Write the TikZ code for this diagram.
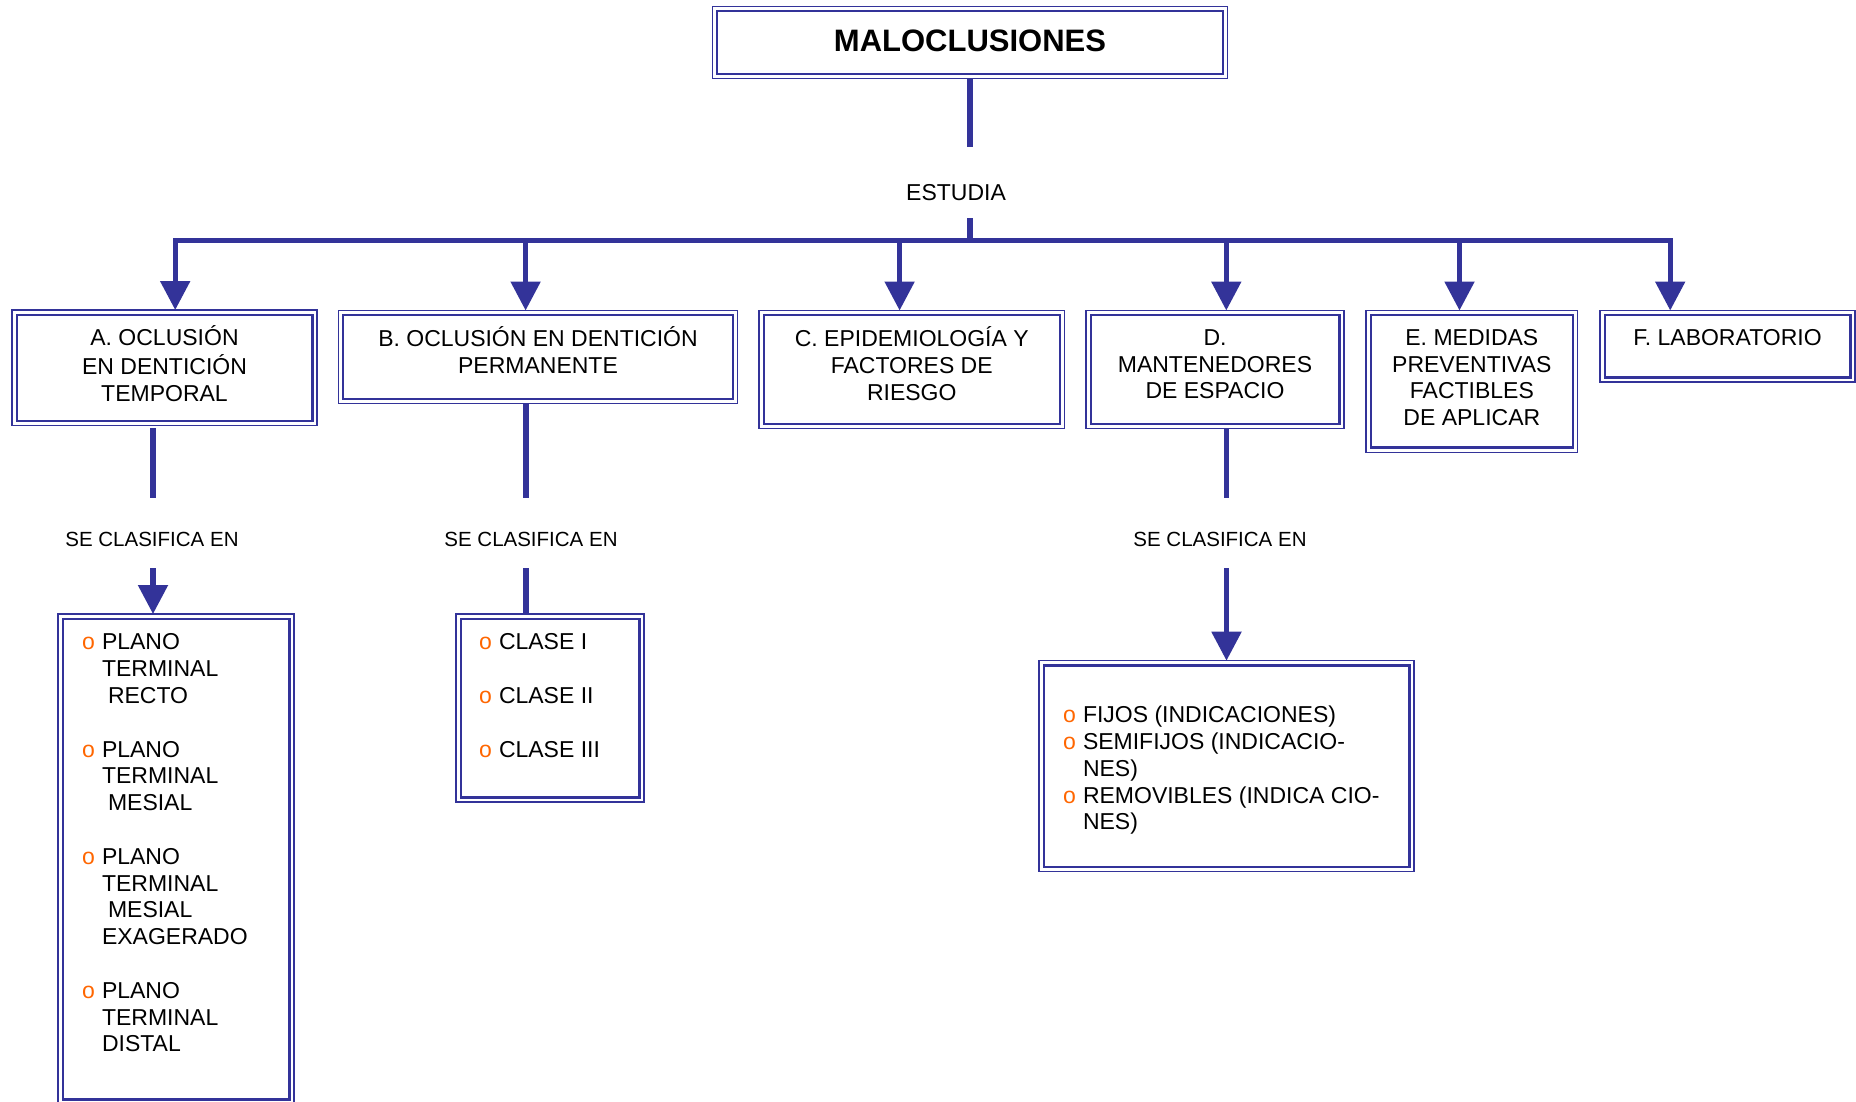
\documentclass[tikz,border=0pt]{standalone}
\usepackage{fontspec}
\setmainfont{Liberation Sans}
\usetikzlibrary{arrows.meta}
\definecolor{mblue}{HTML}{333399}
\definecolor{borange}{HTML}{FF6600}
\newcommand\bul{\makebox[20pt][l]{\textcolor{borange}{o}}}
\begin{document}
\begin{tikzpicture}[x=1pt,y=-1pt,
  font=\fontsize{23pt}{26.8pt}\selectfont,
  dbox/.style={draw=mblue, line width=1.3pt, fill=white, inner sep=0pt, outer sep=0pt, anchor=north west,
    path picture={\draw[mblue, line width=2.4pt]
      ([shift={(4.7pt,4.7pt)}]path picture bounding box.south west) rectangle
      ([shift={(-4.7pt,-4.7pt)}]path picture bounding box.north east);}},
  conn/.style={draw=mblue, line width=5.3pt},
  arr/.style={conn, -{Triangle[length=29pt,width=29pt]}},
  lbl/.style={inner sep=0pt, anchor=base},
  small/.style={font=\fontsize{20.5pt}{24pt}\selectfont}]
\path[use as bounding box, fill=white] (0,0) rectangle (1856,1101);

% title
\node[dbox] (T) at (712.5,6.5) {\parbox[b][72pt][t]{515pt}{\centering\fontsize{31pt}{37pt}\selectfont\bfseries\vspace*{19.3pt}\strut MALOCLUSIONES}};

% top-level boxes
\node[dbox] (A) at (12,310) {\parbox[b][115.5pt][t]{305pt}{\centering\vspace*{16pt}\strut A. OCLUSIÓN\\EN DENTICIÓN\\TEMPORAL}};
\node[dbox] (B) at (338.5,310.5) {\parbox[b][93.2pt][t]{399pt}{\centering\vspace*{16pt}\strut B. OCLUSIÓN EN DENTICIÓN\\PERMANENTE}};
\node[dbox] (C) at (759,310.5) {\parbox[b][118.2pt][t]{305.5pt}{\centering\vspace*{16pt}\strut C. EPIDEMIOLOGÍA Y\\FACTORES DE\\RIESGO}};
\node[dbox] (D) at (1086,310.5) {\parbox[b][118.2pt][t]{258pt}{\centering\vspace*{16pt}\strut D.\\MANTENEDORES\\DE ESPACIO}};
\node[dbox] (E) at (1366,310.5) {\parbox[b][141.8pt][t]{211.7pt}{\centering\vspace*{16pt}\strut E. MEDIDAS\\PREVENTIVAS\\FACTIBLES\\DE APLICAR}};
\node[dbox] (F) at (1600,310.5) {\parbox[b][71.5pt][t]{255pt}{\centering\vspace*{16pt}\strut F. LABORATORIO}};

% list boxes
\node[dbox] (AL) at (58,614) {\parbox[b][490pt][t]{236pt}{\raggedright\vspace*{17.2pt}\strut\hspace*{24pt}\bul PLANO\\
\hspace*{44pt}TERMINAL\\
\hspace*{50pt}RECTO\\[26.8pt]
\hspace*{24pt}\bul PLANO\\
\hspace*{44pt}TERMINAL\\
\hspace*{50pt}MESIAL\\[26.8pt]
\hspace*{24pt}\bul PLANO\\
\hspace*{44pt}TERMINAL\\
\hspace*{50pt}MESIAL\\
\hspace*{44pt}EXAGERADO\\[26.8pt]
\hspace*{24pt}\bul PLANO\\
\hspace*{44pt}TERMINAL\\
\hspace*{44pt}DISTAL}};
\node[dbox] (BL) at (456,614) {\parbox[b][188pt][t]{188pt}{\raggedright\vspace*{17.2pt}\strut\hspace*{23pt}\bul CLASE I\\[26.8pt]
\hspace*{23pt}\bul CLASE II\\[26.8pt]
\hspace*{23pt}\bul CLASE III}};
\node[dbox] (DL) at (1039,660.7) {\parbox[b][211pt][t]{375pt}{\raggedright\vspace*{43.2pt}\strut\hspace*{24pt}\bul FIJOS (INDICACIONES)\\
\hspace*{24pt}\bul SEMIFIJOS (INDICACIO-\\
\hspace*{44pt}NES)\\
\hspace*{24pt}\bul REMOVIBLES (INDICA CIO-\\
\hspace*{44pt}NES)}};

% labels
\node[lbl] (ES) at (956,200) {ESTUDIA};
\node[lbl, small] (SA) at (152,546.7) {SE CLASIFICA EN};
\node[lbl, small] (SB) at (531,546.7) {SE CLASIFICA EN};
\node[lbl, small] (SD) at (1220,546.7) {SE CLASIFICA EN};

% connectors: title -> ESTUDIA -> bus
\coordinate (e1) at (970,147.3);
\coordinate (e2) at (970,218);
\draw[conn] (T.south) -- (e1);
\coordinate (bL) at (175.2,240.5);
\coordinate (bR) at (1670.2,240.5);
\coordinate (bm) at (970,240.5);
\draw[conn] (e2) -- (bm);
\draw[conn, line cap=rect] (bL) -- (bR);
\coordinate (bB) at (525.6,240.5);
\coordinate (bC) at (899.6,240.5);
\coordinate (bD) at (1226.3,240.5);
\coordinate (bE) at (1459.5,240.5);
\draw[arr] (bL) -- (bL |- A.north);
\draw[arr] (bB) -- (bB |- B.north);
\draw[arr] (bC) -- (bC |- C.north);
\draw[arr] (bD) -- (bD |- D.north);
\draw[arr] (bE) -- (bE |- E.north);
\draw[arr] (bR) -- (bR |- F.north);

% A branch
\coordinate (a1) at (153,497.7);
\coordinate (a2) at (153,568);
\draw[conn] ([yshift=-2.5pt]a1 |- A.south) -- (a1);
\draw[arr] (a2) -- (a2 |- AL.north);
% B branch
\coordinate (b1) at (526,497.7);
\coordinate (b2) at (526,568);
\draw[conn] (b1 |- B.south) -- (b1);
\draw[conn] (b2) -- (b2 |- BL.north);
% D branch
\coordinate (d1) at (1226.5,497.7);
\coordinate (d2) at (1226.5,568.3);
\draw[conn] (d1 |- D.south) -- (d1);
\draw[arr] (d2) -- (d2 |- DL.north);
\end{tikzpicture}
\end{document}
